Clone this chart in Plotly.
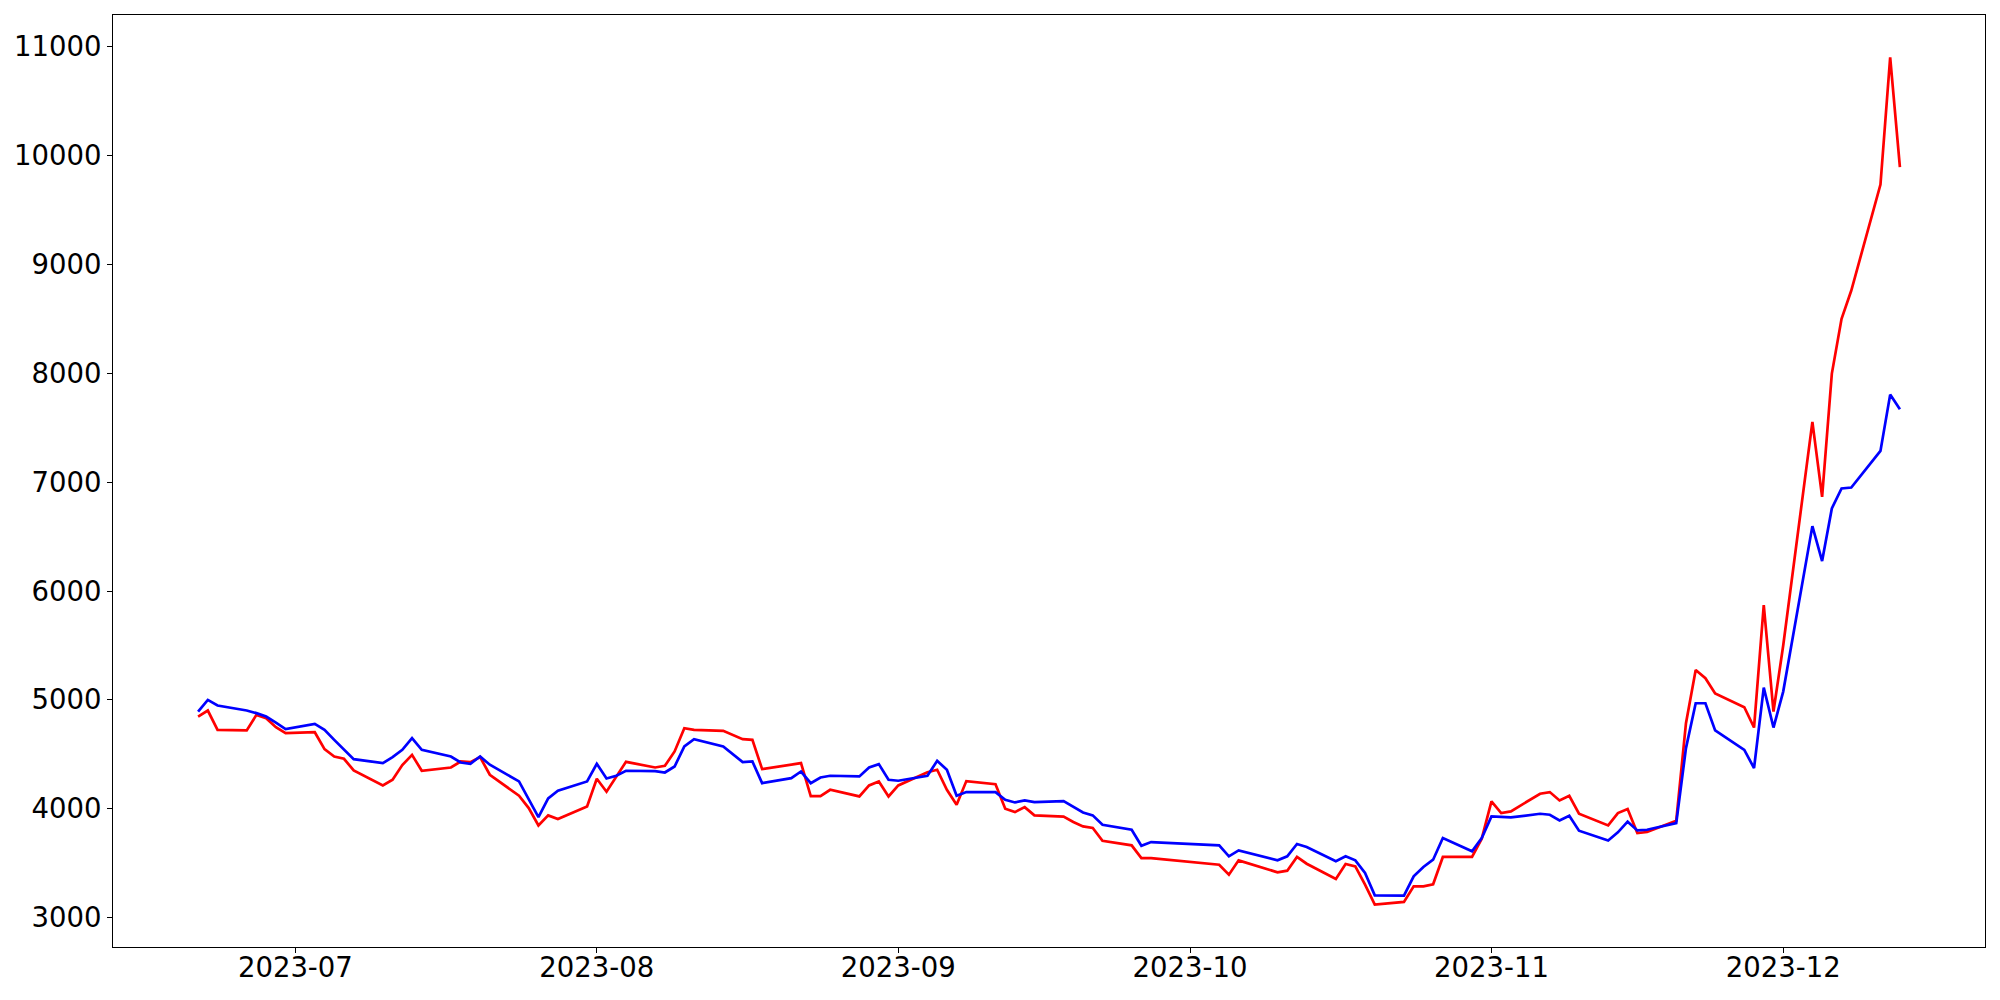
import plotly.graph_objects as go

dates = [
    '2023-06-21', '2023-06-22', '2023-06-23', '2023-06-26', '2023-06-27', '2023-06-28', '2023-06-29', '2023-06-30',
    '2023-07-03', '2023-07-04', '2023-07-05', '2023-07-06', '2023-07-07', '2023-07-10', '2023-07-11', '2023-07-12',
    '2023-07-13', '2023-07-14', '2023-07-17', '2023-07-18', '2023-07-19', '2023-07-20', '2023-07-21', '2023-07-24',
    '2023-07-25', '2023-07-26', '2023-07-27', '2023-07-28', '2023-07-31',
    '2023-08-01', '2023-08-02', '2023-08-03', '2023-08-04', '2023-08-07', '2023-08-08', '2023-08-09', '2023-08-10',
    '2023-08-11', '2023-08-14', '2023-08-16', '2023-08-17', '2023-08-18', '2023-08-21', '2023-08-22', '2023-08-23',
    '2023-08-24', '2023-08-25', '2023-08-28', '2023-08-29', '2023-08-30', '2023-08-31',
    '2023-09-01', '2023-09-04', '2023-09-05', '2023-09-06', '2023-09-07', '2023-09-08', '2023-09-11', '2023-09-12',
    '2023-09-13', '2023-09-14', '2023-09-15', '2023-09-18', '2023-09-19', '2023-09-20', '2023-09-21', '2023-09-22',
    '2023-09-25', '2023-09-26', '2023-09-27',
    '2023-10-04', '2023-10-05', '2023-10-06', '2023-10-10', '2023-10-11', '2023-10-12', '2023-10-13', '2023-10-16',
    '2023-10-17', '2023-10-18', '2023-10-19', '2023-10-20', '2023-10-23', '2023-10-24', '2023-10-25', '2023-10-26',
    '2023-10-27', '2023-10-30', '2023-10-31',
    '2023-11-01', '2023-11-02', '2023-11-03', '2023-11-06', '2023-11-07', '2023-11-08', '2023-11-09', '2023-11-10',
    '2023-11-13', '2023-11-14', '2023-11-15', '2023-11-16', '2023-11-17', '2023-11-20', '2023-11-21', '2023-11-22',
    '2023-11-23', '2023-11-24', '2023-11-27', '2023-11-28', '2023-11-29', '2023-11-30',
    '2023-12-01', '2023-12-04', '2023-12-05', '2023-12-06', '2023-12-07', '2023-12-08', '2023-12-11', '2023-12-12',
    '2023-12-13',
]

red_values = [
    4847, 4902, 4725, 4719, 4862, 4832, 4749, 4694,
    4703, 4547, 4480, 4459, 4352, 4214, 4266, 4401, 4495, 4349, 4379, 4434, 4428, 4474, 4312, 4120,
    4006, 3847, 3939, 3905, 4021,
    4275, 4156, 4297, 4431, 4379, 4394, 4526, 4740, 4725, 4716, 4639, 4633, 4364, 4404, 4419, 4115,
    4116, 4174, 4113, 4214, 4251, 4113,
    4214, 4336, 4358, 4174, 4037, 4254, 4226, 4000, 3969, 4015, 3939, 3927, 3878, 3838, 3823, 3706,
    3664, 3547, 3547,
    3486, 3394, 3526, 3416, 3431, 3557, 3495, 3355, 3492, 3471, 3303, 3119, 3144, 3287, 3287, 3306,
    3557, 3557, 3725,
    4067, 3960, 3976, 4138, 4153, 4076, 4119, 3954, 3847, 3960, 3997, 3777, 3786, 3890, 4786, 5275,
    5199, 5058, 4933, 4746, 5871, 4893,
    5500, 7553, 6865, 7997, 8501, 8760, 9734, 10902, 9893,
]

blue_values = [
    4893, 5000, 4948, 4902, 4878, 4847, 4792, 4731,
    4780, 4725, 4633, 4541, 4456, 4419, 4474, 4541, 4648, 4541, 4480, 4425, 4413, 4480, 4404, 4251,
    4089, 3923, 4095, 4165, 4251,
    4413, 4278, 4303, 4349, 4345, 4333, 4388, 4572, 4639, 4572, 4428, 4434, 4235, 4281, 4342, 4235,
    4287, 4303, 4297, 4379, 4410, 4266,
    4257, 4303, 4440, 4358, 4119, 4153, 4153, 4083, 4058, 4076, 4061, 4070, 4015, 3966, 3939, 3853,
    3807, 3660, 3694,
    3664, 3563, 3618, 3526, 3563, 3676, 3648, 3517, 3563, 3526, 3410, 3205, 3202, 3379, 3465, 3532,
    3731, 3609, 3731,
    3930, 3924, 3920, 3954, 3945, 3893, 3936, 3798, 3709, 3783, 3881, 3801, 3807, 3868, 4557, 4969,
    4969, 4719, 4541, 4373, 5113, 4746,
    5076, 6596, 6275, 6758, 6942, 6951, 7287, 7804, 7670,
]

fig = go.Figure()
fig.add_trace(go.Scatter(x=dates, y=red_values, mode='lines', line=dict(color='red', width=2.7), showlegend=False))
fig.add_trace(go.Scatter(x=dates, y=blue_values, mode='lines', line=dict(color='blue', width=2.7), showlegend=False))

axis_style = dict(showline=True, linecolor='black', linewidth=1.1, mirror=True, showgrid=False, zeroline=False,
                  ticks='outside', ticklen=5, tickwidth=1.1, tickcolor='black', automargin=False,
                  tickfont=dict(family='DejaVu Sans', size=27.5, color='black'))

# page body adds 8px offset, margins account for it
fig.update_layout(
    width=2000, height=1000,
    paper_bgcolor='white', plot_bgcolor='white',
    margin=dict(l=105, r=23, t=7, b=61),
    xaxis=dict(range=['2023-06-12 06:00', '2023-12-21 18:00'], tick0='2023-07-01', dtick='M1',
               tickformat='%Y-%m', ticklabelstandoff=-9, **axis_style),
    yaxis=dict(range=[2730, 11291], tick0=0, dtick=1000, tickformat='d', **axis_style),
)

fig.write_html("out.html")
